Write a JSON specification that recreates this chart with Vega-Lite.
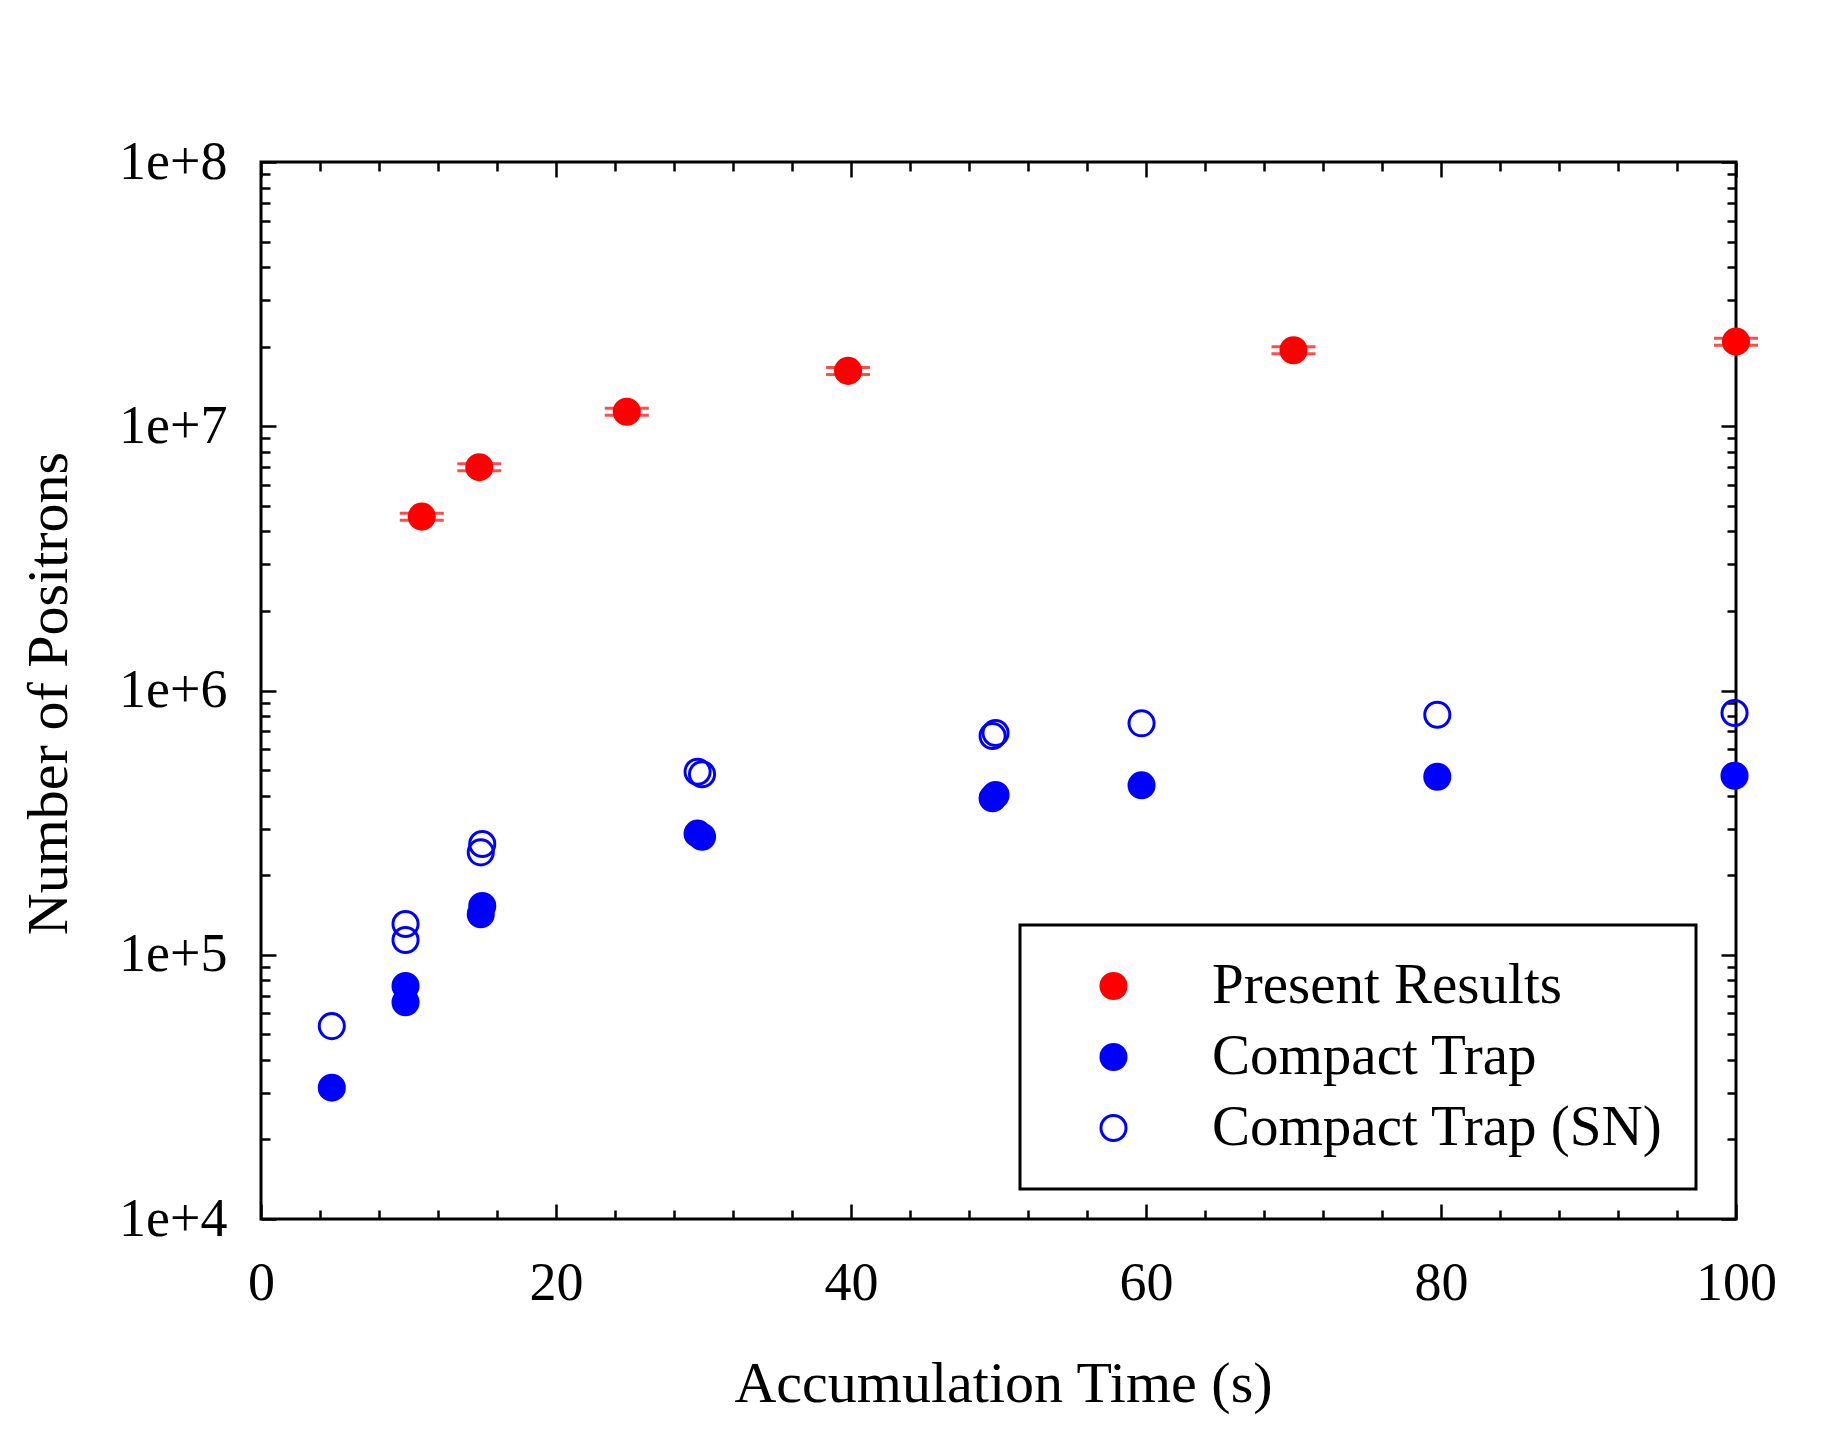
{
  "$schema": "https://vega.github.io/schema/vega-lite/v6.json",
  "autosize": {"type": "none"},
  "padding": {"left": 261, "top": 162, "right": 88, "bottom": 210},
  "width": 1475,
  "height": 1057,
  "background": "white",
  "data": {
    "values": [
      {"series": "Present Results", "t": 10.9, "n": 4550000, "nlo": 4410000, "nhi": 4690000},
      {"series": "Present Results", "t": 14.8, "n": 7000000, "nlo": 6790000, "nhi": 7220000},
      {"series": "Present Results", "t": 24.8, "n": 11350000, "nlo": 11010000, "nhi": 11700000},
      {"series": "Present Results", "t": 39.8, "n": 16200000, "nlo": 15710000, "nhi": 16700000},
      {"series": "Present Results", "t": 70.0, "n": 19400000, "nlo": 18820000, "nhi": 20000000},
      {"series": "Present Results", "t": 100.0, "n": 20900000, "nlo": 20270000, "nhi": 21550000},
      {"series": "Compact Trap", "t": 4.8, "n": 31400},
      {"series": "Compact Trap", "t": 9.8, "n": 76150},
      {"series": "Compact Trap", "t": 9.8, "n": 66070},
      {"series": "Compact Trap", "t": 14.9, "n": 142300},
      {"series": "Compact Trap", "t": 15.0, "n": 152900},
      {"series": "Compact Trap", "t": 29.6, "n": 287200},
      {"series": "Compact Trap", "t": 29.9, "n": 279700},
      {"series": "Compact Trap", "t": 49.6, "n": 390900},
      {"series": "Compact Trap", "t": 49.8, "n": 402200},
      {"series": "Compact Trap", "t": 59.7, "n": 437700},
      {"series": "Compact Trap", "t": 79.75, "n": 471800},
      {"series": "Compact Trap", "t": 99.9, "n": 476000},
      {"series": "Compact Trap (SN)", "t": 4.8, "n": 53700},
      {"series": "Compact Trap (SN)", "t": 9.8, "n": 130700},
      {"series": "Compact Trap (SN)", "t": 9.8, "n": 113700},
      {"series": "Compact Trap (SN)", "t": 14.9, "n": 244100},
      {"series": "Compact Trap (SN)", "t": 15.0, "n": 262500},
      {"series": "Compact Trap (SN)", "t": 29.6, "n": 492800},
      {"series": "Compact Trap (SN)", "t": 29.9, "n": 481900},
      {"series": "Compact Trap (SN)", "t": 49.6, "n": 672600},
      {"series": "Compact Trap (SN)", "t": 49.8, "n": 690400},
      {"series": "Compact Trap (SN)", "t": 59.7, "n": 751300},
      {"series": "Compact Trap (SN)", "t": 79.75, "n": 809900},
      {"series": "Compact Trap (SN)", "t": 99.9, "n": 822000}
    ]
  },
  "layer": [
    {
      "transform": [{"filter": "datum.series === 'Present Results'"}],
      "mark": {
        "type": "errorbar",
        "ticks": {"size": 44, "thickness": 3, "color": "red"},
        "rule": {"strokeWidth": 3, "color": "red"}
      },
      "encoding": {
        "x": {"field": "t", "type": "quantitative", "scale": {"domain": [0, 100], "nice": false, "zero": false}, "axis": null},
        "y": {"field": "nlo", "type": "quantitative", "scale": {"type": "log", "domain": [10000, 100000000], "nice": false}, "axis": null},
        "y2": {"field": "nhi"}
      }
    },
    {
      "mark": {"type": "point", "shape": "circle", "size": 630, "strokeWidth": 3, "opacity": 1},
      "encoding": {
        "x": {
          "field": "t",
          "type": "quantitative",
          "scale": {"domain": [0, 100], "nice": false, "zero": false},
          "axis": {
            "orient": "bottom",
            "values": [0, 4, 8, 12, 16, 20, 24, 28, 32, 36, 40, 44, 48, 52, 56, 60, 64, 68, 72, 76, 80, 84, 88, 92, 96, 100],
            "labelExpr": "datum.value % 20 === 0 ? datum.label : ''",
            "tickSize": {"condition": {"test": "datum.value % 20 === 0", "value": -15}, "value": -9},
            "labelPadding": 52,
            "labelFlush": false,
            "labelOverlap": false,
            "title": "Accumulation Time (s)",
            "titleX": 742,
            "titleY": 182,
            "titleAlign": "center",
            "titleBaseline": "alphabetic"
          }
        },
        "y": {
          "field": "n",
          "type": "quantitative",
          "scale": {"type": "log", "domain": [10000, 100000000], "nice": false},
          "axis": {
            "orient": "left",
            "values": [10000, 20000, 30000, 40000, 50000, 60000, 70000, 80000, 90000, 100000, 200000, 300000, 400000, 500000, 600000, 700000, 800000, 900000, 1000000, 2000000, 3000000, 4000000, 5000000, 6000000, 7000000, 8000000, 9000000, 10000000, 20000000, 30000000, 40000000, 50000000, 60000000, 70000000, 80000000, 90000000, 100000000],
            "labelExpr": "abs(log(datum.value) / LN10 - round(log(datum.value) / LN10)) < 0.001 ? '1e+' + round(log(datum.value) / LN10) : ''",
            "tickSize": {"condition": {"test": "abs(log(datum.value) / LN10 - round(log(datum.value) / LN10)) < 0.001", "value": -15}, "value": -9},
            "labelPadding": 49,
            "labelOverlap": false,
            "title": "Number of Positrons",
            "titleX": -195,
            "titleY": 531,
            "titleAlign": "center",
            "titleBaseline": "alphabetic"
          }
        },
        "fill": {
          "field": "series",
          "type": "nominal",
          "scale": {"domain": ["Present Results", "Compact Trap", "Compact Trap (SN)"], "range": ["red", "blue", "transparent"]},
          "legend": {
            "title": null,
            "orient": "none",
            "legendX": 759,
            "legendY": 763,
            "padding": 32.5,
            "symbolOffset": 32.5,
            "labelOffset": 70,
            "rowPadding": 13,
            "labelFont": "Liberation Serif",
            "labelFontSize": 57,
            "labelColor": "black",
            "labelLimit": 1000,
            "symbolType": "circle",
            "symbolSize": 630,
            "symbolStrokeWidth": 3,
            "strokeColor": "black"
          }
        },
        "stroke": {
          "field": "series",
          "type": "nominal",
          "scale": {"domain": ["Present Results", "Compact Trap", "Compact Trap (SN)"], "range": ["red", "blue", "blue"]},
          "legend": {
            "title": null,
            "orient": "none",
            "legendX": 759,
            "legendY": 763,
            "padding": 32.5,
            "symbolOffset": 32.5,
            "labelOffset": 70,
            "rowPadding": 13,
            "labelFont": "Liberation Serif",
            "labelFontSize": 57,
            "labelColor": "black",
            "labelLimit": 1000,
            "symbolType": "circle",
            "symbolSize": 630,
            "symbolStrokeWidth": 3,
            "strokeColor": "black"
          }
        }
      }
    },
    {
      "mark": {"type": "point", "opacity": 0},
      "encoding": {
        "x": {
          "field": "t",
          "type": "quantitative",
          "scale": {"domain": [0, 100], "nice": false, "zero": false},
          "axis": {
            "orient": "top",
            "values": [0, 4, 8, 12, 16, 20, 24, 28, 32, 36, 40, 44, 48, 52, 56, 60, 64, 68, 72, 76, 80, 84, 88, 92, 96, 100],
            "labels": false,
            "title": null,
            "tickSize": {"condition": {"test": "datum.value % 20 === 0", "value": -15}, "value": -9}
          }
        },
        "y": {
          "field": "n",
          "type": "quantitative",
          "scale": {"type": "log", "domain": [10000, 100000000], "nice": false},
          "axis": {
            "orient": "right",
            "values": [10000, 20000, 30000, 40000, 50000, 60000, 70000, 80000, 90000, 100000, 200000, 300000, 400000, 500000, 600000, 700000, 800000, 900000, 1000000, 2000000, 3000000, 4000000, 5000000, 6000000, 7000000, 8000000, 9000000, 10000000, 20000000, 30000000, 40000000, 50000000, 60000000, 70000000, 80000000, 90000000, 100000000],
            "labels": false,
            "title": null,
            "tickSize": {"condition": {"test": "abs(log(datum.value) / LN10 - round(log(datum.value) / LN10)) < 0.001", "value": -15}, "value": -9}
          }
        }
      }
    }
  ],
  "resolve": {"axis": {"x": "independent", "y": "independent"}},
  "config": {
    "view": {"stroke": "black", "strokeWidth": 3},
    "axis": {
      "domain": false,
      "grid": false,
      "labelFont": "Liberation Serif",
      "labelFontSize": 54,
      "labelColor": "black",
      "tickColor": "black",
      "tickWidth": 2.5,
      "titleFont": "Liberation Serif",
      "titleFontSize": 58,
      "titleFontWeight": "normal",
      "titleColor": "black"
    },
    "legend": {"strokeWidth": 3}
  }
}
